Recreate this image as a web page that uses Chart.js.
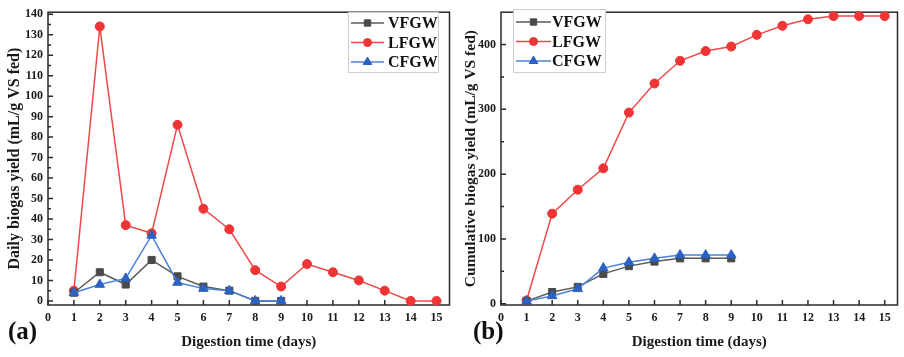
<html>
<head>
<script src="https://cdn.jsdelivr.net/npm/chart.js@4.4.1/dist/chart.umd.min.js"></script>
<style>
body { margin: 0; background: #fff; }
#wrap { position: relative; width: 904px; height: 357px; }
canvas { position: absolute; top: 0; }
</style>
</head>
<body>
<div id="wrap">
  <canvas id="chartDaily" width="456" height="357" style="left:0"></canvas>
  <canvas id="chartCum" width="452" height="357" style="left:452px"></canvas>
</div>
<script>
// values
const days = [1, 2, 3, 4, 5, 6, 7, 8, 9, 10, 11, 12, 13, 14, 15];
const seriesNames = ["VFGW", "LFGW", "CFGW"];

const dailyVFGW = [4, 14, 8, 20, 12, 7, 5, 0, 0];
const dailyLFGW = [5, 134, 37, 33, 86, 45, 35, 15, 7, 18, 14, 10, 5, 0, 0];
const dailyCFGW = [4, 8, 11, 32, 9, 6, 5, 0, 0];

const cumVFGW = [4, 18, 26, 46, 58, 65, 70, 70, 70];
const cumLFGW = [5, 139, 176, 209, 295, 340, 375, 390, 397, 415, 429, 439, 444, 444, 444];
const cumCFGW = [4, 12, 23, 55, 64, 70, 75, 75, 75];

const xTicks = [0, 1, 2, 3, 4, 5, 6, 7, 8, 9, 10, 11, 12, 13, 14, 15];
const dailyYTicks = [0, 10, 20, 30, 40, 50, 60, 70, 80, 90, 100, 110, 120, 130, 140];
const dailyMinor = [5, 15, 25, 35, 45, 55, 65, 75, 85, 95, 105, 115, 125, 135];
const cumYTicks = [0, 100, 200, 300, 400];
const cumMinor = [50, 150, 250, 350];

const SERIF = '"Liberation Serif", "Times New Roman", serif';

function pts(vals) {
  return vals.map((v, i) => ({ x: days[i], y: v }));
}

function makeSets(v, l, c) {
  return [
    { label: "VFGW", data: pts(v), borderColor: "#5a5a5a", pointBackgroundColor: "#4a4a4a",
      pointBorderColor: "#4a4a4a", pointStyle: "rect", pointRadius: 5, order: 1 },
    { label: "LFGW", data: pts(l), borderColor: "#f04848", pointBackgroundColor: "#ee3434",
      pointBorderColor: "#ee3434", pointStyle: "circle", pointRadius: 4.5, order: 2 },
    { label: "CFGW", data: pts(c), borderColor: "#4a82d8", pointBackgroundColor: "#2c62c4",
      pointBorderColor: "#2c62c4", pointStyle: "triangle", pointRadius: 5.5, order: 0 }
  ].map(d => Object.assign(d, { borderWidth: 1.5, pointBorderWidth: 1, tension: 0, clip: false }));
}

// frame + inward tick marks
const frame = {
  id: "frame",
  beforeDatasetsDraw(chart, args, o) {
    const { ctx, chartArea: a, scales: { x, y } } = chart;
    ctx.save();
    ctx.strokeStyle = "#2a2a2a";
    ctx.lineWidth = 1.5;
    ctx.strokeRect(a.left, a.top, a.right - a.left, a.bottom - a.top);
    ctx.beginPath();
    x.ticks.forEach(t => {
      const px = x.getPixelForValue(t.value);
      ctx.moveTo(px, a.bottom); ctx.lineTo(px, a.bottom - 5);
    });
    y.ticks.forEach(t => {
      const py = y.getPixelForValue(t.value);
      ctx.moveTo(a.left, py); ctx.lineTo(a.left + 5, py);
    });
    o.minor.forEach(v => {
      const py = y.getPixelForValue(v);
      ctx.moveTo(a.left, py); ctx.lineTo(a.left + 3, py);
    });
    ctx.stroke();
    ctx.restore();
  }
};

const boxLegend = {
  id: "boxLegend",
  afterDraw(chart, args, o) {
    const ctx = chart.ctx;
    ctx.save();
    ctx.fillStyle = "#fff";
    ctx.fillRect(o.x, o.y, o.w, o.h);
    ctx.strokeStyle = "#cfcfcf";
    ctx.lineWidth = 1;
    ctx.strokeRect(o.x + 0.5, o.y + 0.5, o.w, o.h);
    ctx.font = "bold 16px " + SERIF;
    ctx.textBaseline = "middle";
    seriesNames.forEach((name, i) => {
      const ds = chart.data.datasets.find(d => d.label === name);
      const cy = o.y + o.rowTop + i * o.rowGap;
      ctx.strokeStyle = ds.borderColor;
      ctx.lineWidth = 1.5;
      ctx.beginPath();
      ctx.moveTo(o.x + 3, cy); ctx.lineTo(o.x + 3 + o.lineLen, cy);
      ctx.stroke();
      ctx.fillStyle = ds.pointBackgroundColor;
      ctx.strokeStyle = ds.pointBorderColor;
      ctx.lineWidth = 1;
      Chart.helpers.drawPoint(ctx, { pointStyle: ds.pointStyle, radius: ds.pointRadius - 0.5,
        borderWidth: 1, rotation: 0 }, o.x + 3 + o.lineLen / 2, cy);
      ctx.fillStyle = "#111";
      ctx.fillText(name, o.x + o.textX, cy + 1);
    });
    // panel tag
    ctx.font = "bold 25px " + SERIF;
    ctx.textBaseline = "middle";
    ctx.fillText(o.tag, o.tagX, o.tagY);
    ctx.restore();
  }
};

function makeChart(id, sets, yMax, yTicks, minor, yTitle, yTitleSize, yWidth, yTitlePad, pad, legend) {
  return new Chart(document.getElementById(id), {
    type: "line",
    data: { datasets: sets },
    plugins: [frame, boxLegend],
    options: {
      responsive: false,
      animation: false,
      layout: { padding: pad },
      plugins: {
        legend: { display: false },
        tooltip: { enabled: false },
        frame: { minor: minor },
        boxLegend: legend
      },
      scales: {
        x: {
          type: "linear", min: 0, max: 15.5,
          afterBuildTicks: s => { s.ticks = xTicks.map(v => ({ value: v })); },
          afterFit: s => { s.height = 52; },
          grid: { display: false, drawTicks: false, tickLength: 0 },
          border: { display: false },
          ticks: { color: "#1a1a1a", padding: 6, maxRotation: 0,
                   font: { family: SERIF, size: 12, weight: "bold" } },
          title: { display: true, text: "Digestion time (days)", color: "#1a1a1a", padding: 6,
                   font: { family: SERIF, size: 15, weight: "bold" } }
        },
        y: {
          type: "linear", min: -2, max: yMax,
          afterBuildTicks: s => { s.ticks = yTicks.map(v => ({ value: v })); },
          afterFit: s => { s.width = yWidth; },
          grid: { display: false, drawTicks: false, tickLength: 0 },
          border: { display: false },
          ticks: { color: "#1a1a1a", padding: 5,
                   font: { family: SERIF, size: 12, weight: "bold" } },
          title: { display: true, text: yTitle, color: "#1a1a1a", padding: yTitlePad,
                   font: { family: SERIF, size: yTitleSize, weight: "bold" } }
        }
      }
    }
  });
}

makeChart("chartDaily", makeSets(dailyVFGW, dailyLFGW, dailyCFGW), 141, dailyYTicks, dailyMinor,
  "Daily biogas yield (mL/g VS fed)", 16, 48, 5, { top: 9, right: 4, left: 0, bottom: 0 },
  { x: 348, y: 12, w: 90, h: 60, rowTop: 11, rowGap: 19.5, lineLen: 33, textX: 40,
    tag: "(a)", tagX: 8, tagY: 333 });

makeChart("chartCum", makeSets(cumVFGW, cumLFGW, cumCFGW), 450, cumYTicks, cumMinor,
  "Cumulative biogas yield (mL/g VS fed)", 15.5, 49, 10, { top: 4, right: 1, left: 0, bottom: 0 },
  { x: 61, y: 9, w: 92, h: 63, rowTop: 13, rowGap: 19.5, lineLen: 35, textX: 39,
    tag: "(b)", tagX: 21, tagY: 333 });
</script>
</body>
</html>
